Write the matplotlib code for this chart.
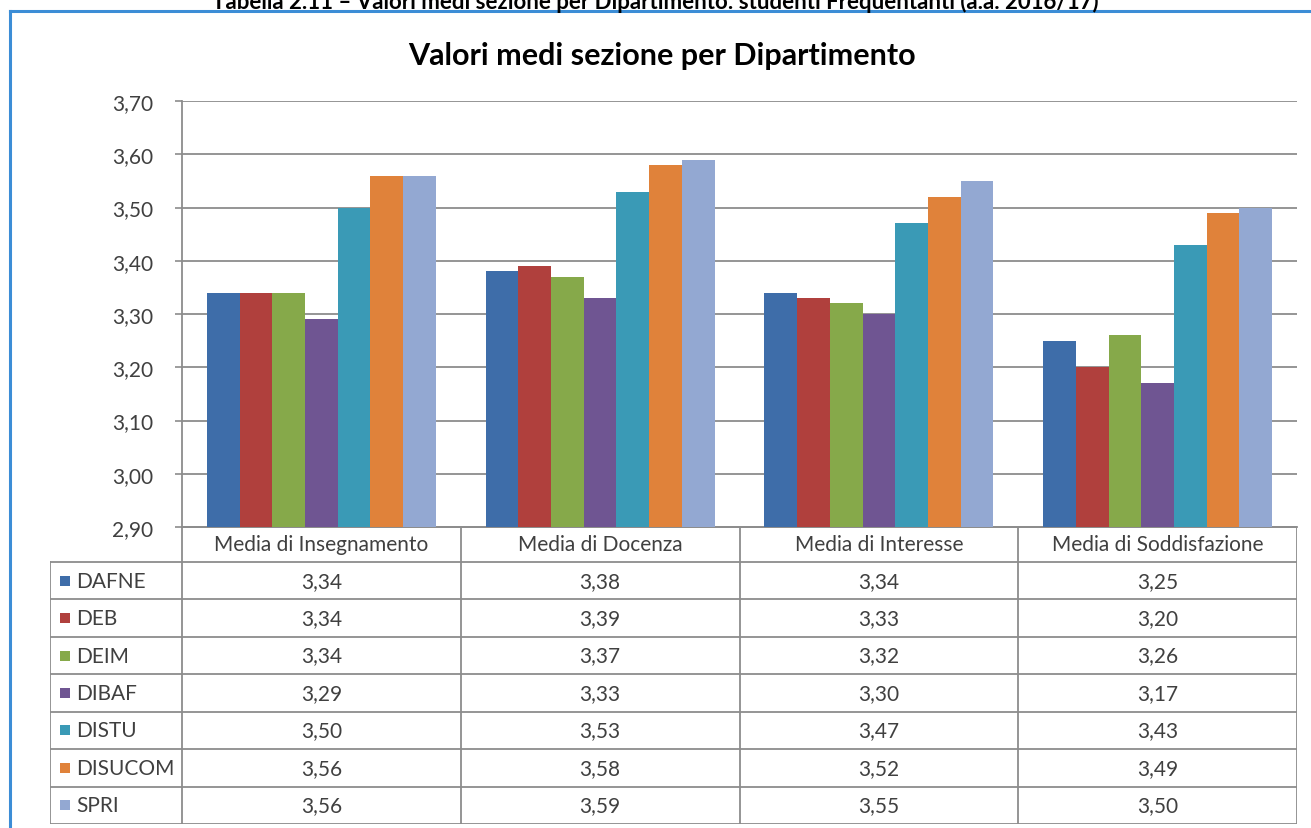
import matplotlib
matplotlib.use("Agg")
import matplotlib.pyplot as plt
import numpy as np
from matplotlib.patches import Rectangle
from matplotlib.lines import Line2D

plt.rcParams['font.family'] = ['Lato', 'DejaVu Sans']

categories = ["Media di Insegnamento", "Media di Docenza", "Media di Interesse", "Media di Soddisfazione"]
series_names = ["DAFNE", "DEB", "DEIM", "DIBAF", "DISTU", "DISUCOM", "SPRI"]
DAFNE = [3.34, 3.38, 3.34, 3.25]
DEB = [3.34, 3.39, 3.33, 3.20]
DEIM = [3.34, 3.37, 3.32, 3.26]
DIBAF = [3.29, 3.33, 3.30, 3.17]
DISTU = [3.50, 3.53, 3.47, 3.43]
DISUCOM = [3.56, 3.58, 3.52, 3.49]
SPRI = [3.56, 3.59, 3.55, 3.50]
series_values = [DAFNE, DEB, DEIM, DIBAF, DISTU, DISUCOM, SPRI]
yticks = [2.90, 3.00, 3.10, 3.20, 3.30, 3.40, 3.50, 3.60, 3.70]

colors = ['#3E6DA9', '#B0403D', '#86A94A', '#6F5592', '#3A9AB6', '#E0823A', '#93A8D2']

W, H = 1311, 829
fig = plt.figure(figsize=(W / 100, H / 100), dpi=100)
fig.patch.set_facecolor('white')

def fx(px):
    return px / W

def fy(py):
    return 1 - py / H

# outer frame (blue) on left and top
fig.add_artist(Line2D([fx(10), fx(10)], [fy(12), fy(829)], color='#3C8DD6', lw=2.2))
fig.add_artist(Line2D([fx(10), fx(1311)], [fy(12), fy(12)], color='#3C8DD6', lw=2.2))

# caption at the very top (partly cut off in the reference)
fig.text(0.5, fy(9), "Tabella 2.11 \u2013 Valori medi sezione per Dipartimento: studenti Frequentanti (a.a. 2016/17)",
         ha='center', va='baseline', fontsize=16, fontweight='bold', color='black')

# chart title
fig.text(fx(662), fy(56), "Valori medi sezione per Dipartimento", ha='center', va='center',
         fontsize=22, fontweight='bold', color='black')

# main bar axes
L, R, T, B = 182, 1297, 102, 528
ax = fig.add_axes([fx(L), fy(B), fx(R) - fx(L), fy(T) - fy(B)])
ax.set_xlim(-0.5, len(categories) - 0.5)
ax.set_ylim(yticks[0], yticks[-1])
n = len(series_names)
bw = 0.8215 / n
x = np.arange(len(categories))
for j, (name, vals) in enumerate(zip(series_names, series_values)):
    ax.bar(x + (j - (n - 1) / 2) * bw, np.array(vals) - yticks[0], bw, bottom=yticks[0],
           color=colors[j], edgecolor='none', zorder=3)
ax.set_yticks(yticks)
ax.set_yticklabels([f"{v:.2f}".replace('.', ',') for v in yticks], fontsize=15, color='#404040')
ax.yaxis.grid(True, color='#8C8C8C', lw=1.3, zorder=0)
ax.set_xticks([])
for s in ['top', 'right']:
    ax.spines[s].set_visible(False)
ax.spines['left'].set_color('#8C8C8C')
ax.spines['left'].set_linewidth(1.3)
ax.spines['bottom'].set_color('#8C8C8C')
ax.spines['bottom'].set_linewidth(1.3)
ax.tick_params(axis='y', length=5, color='#8C8C8C', width=1.2, pad=16)
ax.patch.set_alpha(0)

# data table drawn in pixel coordinates
TL, TB = 50, 825
tax = fig.add_axes([fx(TL), fy(TB), fx(R) - fx(TL), fy(B) - fy(TB)])
tax.set_xlim(TL, R)
tax.set_ylim(TB, B)
tax.axis('off')
lc = '#8C8C8C'
lw = 1.3
header_bottom = 563
row_h = (TB - header_bottom) / n
cat_w = (R - L) / len(categories)
fs = 15

tax.plot([L, R], [B, B], color=lc, lw=lw)
tax.plot([R, R], [B, TB], color=lc, lw=lw)
tax.plot([L, L], [B, TB], color=lc, lw=lw)
tax.plot([TL, TL], [header_bottom, TB], color=lc, lw=lw)
for k in range(1, len(categories)):
    xx = L + k * cat_w
    tax.plot([xx, xx], [B, TB], color=lc, lw=lw)
for r in range(n + 1):
    yy = header_bottom + r * row_h
    tax.plot([TL, R], [yy, yy], color=lc, lw=lw)

for k, c in enumerate(categories):
    tax.text(L + (k + 0.5) * cat_w, (B + header_bottom) / 2, c, ha='center', va='center',
             fontsize=fs, color='#404040')

for r, (name, vals) in enumerate(zip(series_names, series_values)):
    yc = header_bottom + (r + 0.5) * row_h
    tax.add_patch(Rectangle((TL + 10, yc - 5), 10, 10, color=colors[r], lw=0))
    tax.text(TL + 26, yc, name, ha='left', va='center', fontsize=fs, color='#404040')
    for k, v in enumerate(vals):
        tax.text(L + (k + 0.5) * cat_w, yc, f"{v:.2f}".replace('.', ','), ha='center', va='center',
                 fontsize=fs, color='#404040')

fig.savefig("out.png", dpi=100)
